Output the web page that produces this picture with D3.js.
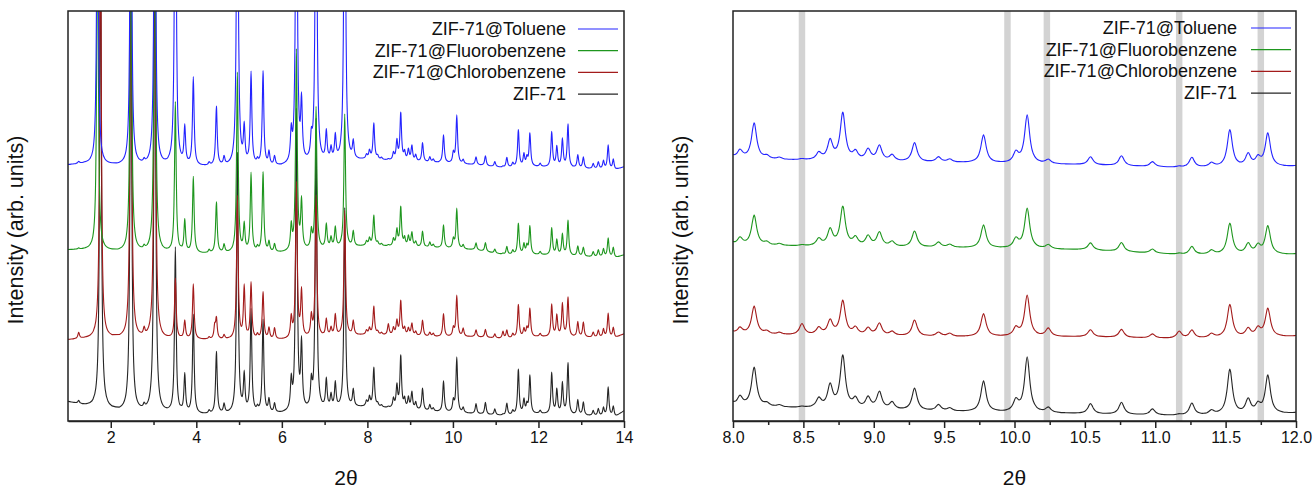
<!DOCTYPE html>
<html>
<head>
<meta charset="utf-8">
<script src="https://cdnjs.cloudflare.com/ajax/libs/d3/7.8.5/d3.min.js"></script>
<style>
  body { margin: 0; background: #fff; }
  text { font-family: "Liberation Sans", Arial, sans-serif; fill: #111; }
</style>
</head>
<body>
<svg></svg>
<script>
// DATA
let seriesNames = ["ZIF-71@Toluene", "ZIF-71@Fluorobenzene", "ZIF-71@Chlorobenzene", "ZIF-71"]
let seriesColors = ["#2424ff", "#1e961e", "#a31b1b", "#262626"]

// peak positions (2theta) and peak heights above baseline for each sample
let peakPos  = [1.25, 1.69, 1.76, 2.47, 2.78, 3.03, 3.51, 3.73, 3.93, 4.30, 4.43, 4.47, 4.65, 4.96, 5.12, 5.28, 5.43, 5.56, 5.70, 5.83,
                6.22, 6.34, 6.46, 6.69, 6.80, 7.04, 7.15, 7.25, 7.47, 7.67, 7.98, 8.05, 8.15, 8.24, 8.33, 8.49, 8.61, 8.69, 8.78, 8.87,
                8.96, 9.04, 9.13, 9.29, 9.46, 9.54, 9.78, 10.01, 10.09, 10.24, 10.54, 10.76, 10.98, 11.17, 11.26, 11.40, 11.53, 11.66, 11.73, 11.80,
                12.04, 12.31, 12.43, 12.56, 12.69, 12.92, 13.05, 13.28, 13.40, 13.52, 13.63, 13.75]
let toluene  = [2, 350, 0, 400, 3, 420, 400, 37, 88, 3, 0, 59, 8, 400, 36, 92, 4, 94, 13, 9,
                29, 400, 58, 20, 400, 29, 12, 24, 400, 17, 4, 8, 36, 3, 2, 1, 7, 19, 47, 8,
                11, 15, 6, 19, 5, 3, 28, 10, 48, 4, 8, 10, 5, 1, 10, 4, 37, 12, 8, 33,
                3, 35, 20, 28, 43, 13, 11, 5, 7, 8, 24, 10]
let fluoro   = [1, 350, 0, 380, 3, 420, 150, 32, 76, 3, 0, 51, 8, 180, 27, 79, 4, 80, 10, 8,
                24, 200, 48, 17, 142, 24, 10, 20, 133, 15, 4, 7, 30, 3, 2, 1, 7, 16, 39, 8,
                10, 14, 5, 16, 5, 3, 23, 9, 40, 4, 7, 9, 4, 1, 8, 4, 31, 10, 8, 28,
                3, 27, 15, 21, 35, 10, 9, 5, 7, 8, 19, 10]
let chloro   = [6, 0, 450, 450, 7, 480, 60, 18, 55, 2, 12, 20, 4, 143, 52, 56, 4, 47, 11, 11,
                20, 155, 46, 20, 141, 17, 8, 21, 125, 14, 4, 6, 28, 3, 2, 11, 7, 14, 34, 7,
                7, 12, 4, 16, 4, 3, 23, 8, 41, 8, 7, 8, 4, 7, 8, 4, 33, 8, 8, 28,
                3, 32, 21, 33, 39, 15, 15, 5, 7, 8, 24, 10]
let zif71    = [3, 0, 500, 480, 4, 520, 165, 38, 99, 3, 0, 62, 9, 260, 37, 103, 4, 93, 13, 9,
                29, 300, 65, 25, 290, 29, 13, 25, 200, 17, 5, 9, 39, 3, 2, 1, 9, 22, 52, 9,
                11, 17, 7, 22, 6, 3, 31, 11, 55, 5, 10, 12, 6, 1, 12, 4, 45, 14, 8, 38,
                3, 41, 24, 31, 51, 15, 13, 5, 7, 8, 29, 10]

// background level of each trace
let baseX        = [1, 1.4, 2.2, 4.1, 6, 8, 9.6, 10.5, 11.2, 12, 13.8, 14]
let tolueneBase  = [256, 257, 255, 254, 254, 261, 258, 256, 253, 254, 251, 254]
let fluoroBase   = [171, 171, 169, 167, 168, 175, 173, 171, 166, 166, 163, 166]
let chloroBase   = [81, 82, 82, 81, 81, 86, 84, 84, 82, 84, 83, 87]
let zif71Base    = [19, 15, 9, 6, 7, 14, 9, 7, 5, 7, 4, 10]

let bands = [8.49, 9.95, 10.23, 11.17, 11.75]
let leftTicks = [2, 4, 6, 8, 10, 12, 14]
let leftMinor = [3, 5, 7, 9, 11, 13]
let rightTicks = [8.0, 8.5, 9.0, 9.5, 10.0, 10.5, 11.0, 11.5, 12.0]
let rightMinor = [8.25, 8.75, 9.25, 9.75, 10.25, 10.75, 11.25, 11.75]

let heights = [toluene, fluoro, chloro, zif71]
let bases = [tolueneBase, fluoroBase, chloroBase, zif71Base]

let svgWidth = 1315
let svgHeight = 488
let gamma = 0.022
let steps = [-20, -12, -8, -5, -3, -2, -1.5, -1, -0.5, 0, 0.5, 1, 1.5, 2, 3, 5, 8, 12, 20]

// THE CONTAINER
let svg = d3.select("svg")
  .attr("width", svgWidth)
  .attr("height", svgHeight)

let yScale = d3.scaleLinear()
  .domain([0, 410])
  .range([421, 11])

// one trace: background scale + lorentzian peaks, sampled at the peak vertices
function trace(s, lo, hi) {
  let bg = d3.scaleLinear().domain(baseX).range(bases[s])
  let h = heights[s]
  let xs = new Set([lo, hi])
  baseX.forEach(x => { if (x > lo && x < hi) xs.add(x) })
  peakPos.forEach((p, i) => {
    if (h[i] <= 0) return
    steps.forEach(k => {
      let x = +(p + k * gamma).toFixed(4)
      if (x > lo && x < hi) xs.add(x)
    })
  })
  return Array.from(xs).sort(d3.ascending).map(x => {
    let y = bg(x) + d3.sum(peakPos, (p, i) => h[i] / (1 + ((x - p) / gamma) ** 2))
    return [x, y]
  })
}

function panel(id, x0, x1, domain, ticks, minor, fmt, legendEnd, lineX, legendY, withBands) {
  let xScale = d3.scaleLinear().domain(domain).range([x0, x1])
  let g = svg.append("g")

  g.append("clipPath").attr("id", id)
    .append("rect")
    .attr("x", x0).attr("y", 11)
    .attr("width", x1 - x0).attr("height", 410)

  let plot = g.append("g").attr("clip-path", `url(#${id})`)

  if (withBands) {
    plot.selectAll(".band")
      .data(bands)
      .enter()
      .append("rect")
      .attr("x", d => xScale(d - 0.023))
      .attr("width", d => xScale(d + 0.023) - xScale(d - 0.023))
      .attr("y", 11)
      .attr("height", 410)
      .attr("fill", "#d3d3d3")
  }

  let line = d3.line()
    .x(d => xScale(d[0]))
    .y(d => yScale(d[1]))
    .curve(d3.curveMonotoneX)

  // draw black first so toluene sits on top
  ;[3, 2, 1, 0].forEach(s => {
    plot.append("path")
      .attr("d", line(trace(s, domain[0], domain[1])))
      .attr("fill", "none")
      .attr("stroke", seriesColors[s])
      .attr("stroke-width", 1.1)
  })

  // FRAME
  g.append("rect")
    .attr("x", x0).attr("y", 11)
    .attr("width", x1 - x0).attr("height", 410)
    .attr("fill", "none")
    .attr("stroke", "#222")
    .attr("stroke-width", 1.5)

  // X AXIS
  let xAxis = d3.axisBottom(xScale)
    .tickValues(ticks)
    .tickFormat(fmt)
    .tickSize(7)
    .tickSizeOuter(0)
    .tickPadding(4)
  let ax = g.append("g")
    .attr("transform", "translate(0, 421)")
    .call(xAxis)
  ax.select(".domain").attr("stroke", "#222").attr("stroke-width", 1.5)
  ax.selectAll(".tick line").attr("stroke", "#222").attr("stroke-width", 1.5)
  ax.selectAll("text").attr("font-size", 16).attr("fill", "#111")
    .style("font-family", '"Liberation Sans", Arial, sans-serif')

  g.append("g")
    .attr("transform", "translate(0, 421)")
    .call(d3.axisBottom(xScale).tickValues(minor).tickSize(4).tickSizeOuter(0).tickFormat(""))
    .call(a => a.select(".domain").remove())
    .selectAll("line").attr("stroke", "#222").attr("stroke-width", 1.5)

  // LABELS
  g.append("text")
    .attr("x", (x0 + x1) / 2)
    .attr("y", 485)
    .attr("text-anchor", "middle")
    .attr("font-size", 21)
    .text("2θ")

  g.append("text")
    .attr("transform", `translate(${x0 - 45}, 230) rotate(-90)`)
    .attr("text-anchor", "middle")
    .attr("font-size", 21.5)
    .text("Intensity (arb. units)")

  // LEGEND
  seriesNames.forEach((name, i) => {
    let y = legendY + i * 21.7
    g.append("text")
      .attr("x", legendEnd)
      .attr("y", y + 6)
      .attr("text-anchor", "end")
      .attr("font-size", 18)
      .text(name)
    g.append("line")
      .attr("x1", lineX[0]).attr("x2", lineX[1])
      .attr("y1", y).attr("y2", y)
      .attr("stroke", seriesColors[i])
      .attr("stroke-width", 1.2)
  })
}

panel("clipL", 68, 624, [1, 14], leftTicks, leftMinor, d3.format("d"), 566, [578, 618], 29, false)
panel("clipR", 733, 1296, [8, 12], rightTicks, rightMinor, d3.format(".1f"), 1237, [1251, 1291], 28, true)
</script>
</body>
</html>
